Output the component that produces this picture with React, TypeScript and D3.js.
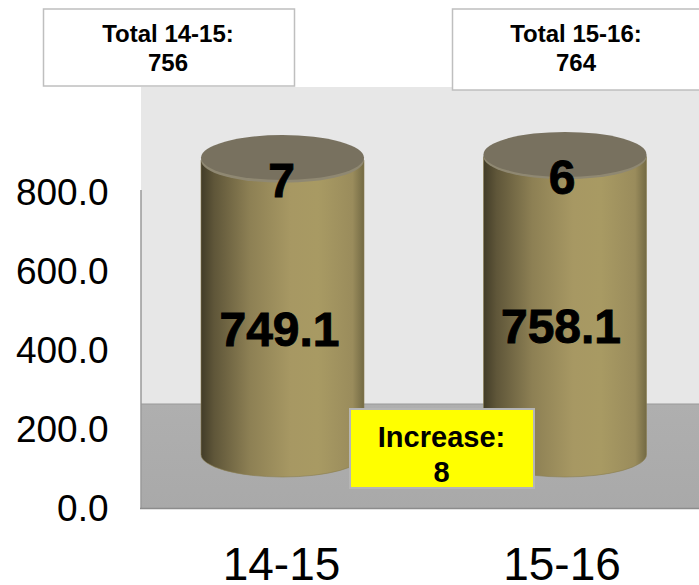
import React from 'react';
import * as d3 from 'd3';

const categories = ['14-15', '15-16'];
const mainValues = [749.1, 758.1];
const capValues = [7, 6];
const mainLabels = ['749.1', '758.1'];
const capLabels = ['7', '6'];
const yTicks = [0, 200, 400, 600, 800];
const totalTitles = ['Total 14-15:', 'Total 15-16:'];
const totalValues = ['756', '764'];
const increaseLines = ['Increase:', '8'];

const FONT = '"Liberation Sans", Arial, sans-serif';

export default function App() {
  const y = d3.scaleLinear().domain([0, 800]).range([508, 191.5]);
  const yBar = d3.scaleLinear().domain([0, 800]).range([454.5, 140.3]);
  const fmt = d3.format('.1f');
  const rx = 81.5;
  const ry = 22.5;
  const centers = [282.5, 565];
  const labelCenters = [281.5, 562];
  const boxes = [
    { x: 43.5, y: 9, w: 251, h: 77, t: 42, v: 71, cx: 168 },
    { x: 452.5, y: 9, w: 250, h: 81, t: 42, v: 71, cx: 576 },
  ];
  return (
    <svg width={699} height={585} style={{ position: 'absolute', left: 0, top: 0 }} fontFamily={FONT}>
      <defs>
        <linearGradient id="cyl" x1="0" x2="1" y1="0" y2="0">
          <stop offset="0" stopColor="#423c28" />
          <stop offset="0.08" stopColor="#5f5639" />
          <stop offset="0.3" stopColor="#8d8054" />
          <stop offset="0.55" stopColor="#a79863" />
          <stop offset="0.72" stopColor="#a89a63" />
          <stop offset="0.93" stopColor="#9a8c5c" />
          <stop offset="1" stopColor="#736a44" />
        </linearGradient>
        <linearGradient id="floor" x1="0" x2="0" y1="0" y2="1">
          <stop offset="0" stopColor="#afafaf" />
          <stop offset="1" stopColor="#a9a9a9" />
        </linearGradient>
      </defs>
      <rect x={141} y={87} width={558} height={317} fill="#e7e7e7" />
      <rect x={141} y={404} width={558} height={104} fill="url(#floor)" />
      <line x1={141} x2={699} y1={404} y2={404} stroke="#999" strokeWidth={1} />
      <line x1={141} x2={141} y1={190} y2={508} stroke="#9a9a9a" strokeWidth={1.5} />
      <line x1={140} x2={699} y1={508.5} y2={508.5} stroke="#8c8c8c" strokeWidth={1.5} />

      {yTicks.map((t) => (
        <text key={t} x={108.5} y={y(t) + 13} textAnchor="end" fontSize={37} fill="#000">{fmt(t)}</text>
      ))}

      {categories.map((c, i) => {
        const cx = centers[i];
        const base = yBar(0);
        const topMain = yBar(mainValues[i]);
        const topCap = yBar(mainValues[i] + capValues[i]);
        const body = `M${cx - rx},${topMain} V${base} A${rx},${ry} 0 0 0 ${cx + rx},${base} V${topMain} Z`;
        return (
          <g key={c}>
            <path d={body} fill="url(#cyl)" stroke="#8a7d50" strokeWidth={0.6} />
            <ellipse cx={cx} cy={topMain} rx={rx} ry={ry} fill="#8f8872" />
            <ellipse cx={cx} cy={topCap} rx={rx} ry={ry} fill="#78715f" />
          </g>
        );
      })}

      {categories.map((c, i) => (
        <g key={c} fontWeight="bold" fontSize={48} textAnchor="middle" fill="#000" stroke="#000" strokeWidth={0.9}>
          <text x={labelCenters[i]} y={197 - i * 3}>{capLabels[i]}</text>
          <text x={labelCenters[i] - 2 + i * 1} y={346 - i * 3}>{mainLabels[i]}</text>
        </g>
      ))}

      {categories.map((c, i) => (
        <text key={c} x={labelCenters[i]} y={580} textAnchor="middle" fontSize={46} fill="#000">{c}</text>
      ))}

      {boxes.map((b, i) => (
        <g key={i}>
          <rect x={b.x} y={b.y} width={b.w} height={b.h} fill="#fff" stroke="#bfbfbf" strokeWidth={1.5} />
          <text x={b.cx} y={b.t} textAnchor="middle" fontWeight="bold" fontSize={24} fill="#000">{totalTitles[i]}</text>
          <text x={b.cx} y={b.v} textAnchor="middle" fontWeight="bold" fontSize={24} fill="#000">{totalValues[i]}</text>
        </g>
      ))}

      <rect x={350} y={409} width={184} height={79} fill="#ffff00" stroke="#b5b5b5" strokeWidth={2} />
      <text x={441.5} y={447} textAnchor="middle" fontWeight="bold" fontSize={29} fill="#000">{increaseLines[0]}</text>
      <text x={441.5} y={482} textAnchor="middle" fontWeight="bold" fontSize={29} fill="#000">{increaseLines[1]}</text>
    </svg>
  );
}
